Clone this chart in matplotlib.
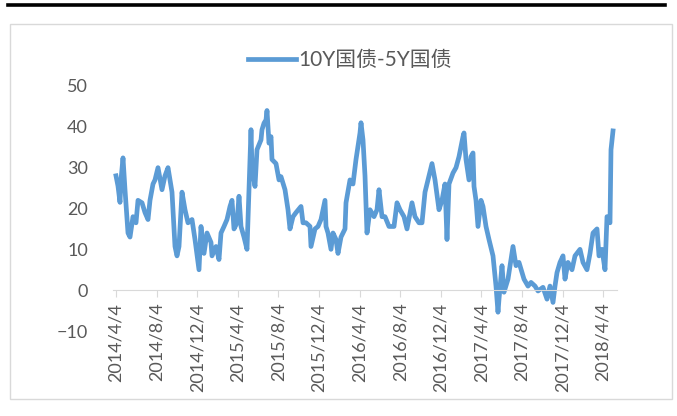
import numpy as np
import pandas as pd
import matplotlib
matplotlib.use('Agg')
import matplotlib.pyplot as plt
from matplotlib.lines import Line2D

plt.rcParams['font.family'] = ['Lato', 'Noto Sans CJK SC', 'DejaVu Sans']

# days since 2014/4/4 and spread (bp)
days = [0, 6, 12, 15, 21, 27, 36, 42, 51, 60, 66, 78, 87, 96, 102, 111, 117, 126,
        138, 147, 156, 168, 177, 183, 189, 198, 207, 216, 228, 237, 249, 255, 264,
        273, 285, 288, 300, 309, 315, 324, 333, 342, 348, 354, 363, 369, 375, 384,
        393, 405, 408, 417, 423, 435, 438, 444, 450, 453, 459, 465, 468, 480, 489,
        495, 507, 516, 522, 531, 540, 555, 561, 570, 582, 585, 597, 606, 615, 627,
        630, 636, 645, 651, 660, 666, 675, 687, 690, 702, 711, 720, 732, 735, 741,
        747, 753, 762, 774, 783, 789, 798, 807, 819, 834, 843, 852, 864, 873, 888,
        897, 909, 918, 927, 939, 948, 957, 969, 978, 987, 993, 999, 1011, 1020,
        1029, 1041, 1044, 1050, 1059, 1065, 1071, 1074, 1080, 1086, 1095, 1101,
        1110, 1119, 1131, 1140, 1146, 1149, 1158, 1164, 1176, 1185, 1191, 1200,
        1209, 1224, 1236, 1245, 1257, 1266, 1281, 1293, 1302, 1311, 1317, 1323,
        1332, 1341, 1347, 1356, 1368, 1377, 1392, 1401, 1413, 1422, 1431, 1443,
        1449, 1458, 1467, 1473, 1482, 1485, 1491]
spread = [28, 25.5, 21.5, 27, 32.4, 24.6, 14, 13, 18, 16.5, 22, 21.4, 19, 17.3, 22,
          26, 27, 30, 24.6, 28, 30, 24, 10.7, 8.4, 10.7, 24, 19.7, 16.5, 17.3, 12.4,
          5, 15.6, 9, 14, 11.7, 8.4, 10.7, 7.5, 14, 15.6, 17.3, 20.5, 22, 15, 16.5,
          23, 15.6, 13, 10, 39.3, 30, 25.4, 34.4, 36.8, 39.3, 40.9, 41.7, 44, 36,
          37.6, 32, 31, 27, 27.8, 24.6, 19.7, 15, 18, 19, 20.5, 16.5, 16.5, 15.6,
          10.7, 15, 15.6, 17.3, 22, 15.6, 14, 10, 14, 12.4, 9, 13, 15, 21.4, 27, 26,
          32, 38.5, 41, 36.8, 28, 14, 19.7, 18, 19.7, 24.6, 18, 18, 15.6, 15.6, 21.4,
          19.7, 18, 15, 21.4, 18, 16.5, 16.5, 24, 28, 31, 27, 19.7, 22, 26, 12.4, 26,
          28.7, 30, 32.7, 37.6, 38.5, 32, 27, 32.7, 33.6, 25.4, 22, 15.6, 22, 20.5,
          15.6, 12.4, 8.4, 1, -5.4, -2.2, 6, -0.5, 2.7, 7.5, 10.7, 6, 6.8, 2.7, 1,
          1.9, 1, -0.2, 0.7, -2.2, 1, -3, 1, 4.3, 6.8, 8.4, 2.7, 6.8, 5, 8.4, 10, 6.8,
          5, 9, 14, 15, 8.4, 10, 5, 18, 16.5, 34.4, 39]
tick_dates = ['2014-04-04', '2014-08-04', '2014-12-04', '2015-04-04', '2015-08-04',
              '2015-12-04', '2016-04-04', '2016-08-04', '2016-12-04', '2017-04-04',
              '2017-08-04', '2017-12-04', '2018-04-04']
series_name = '10Y国债-5Y国债'

start = pd.Timestamp('2014-04-04')
dates = start + pd.to_timedelta(days, unit='D')
ticks = pd.to_datetime(tick_dates)

blue = '#5b9bd5'
grey = '#595959'

fig = plt.figure(figsize=(6.77, 4.16), dpi=100)
fig.add_artist(Line2D([8/677, 665/677], [1 - 4.5/416, 1 - 4.5/416], color='black', lw=2.6))
fig.add_artist(plt.Rectangle((10/677, 1 - 399/416), 662/677, 375/416, fill=False,
                             edgecolor='#d9d9d9', lw=1.0))

ax = fig.add_axes([113/677, 1 - 331/416, 504/677, 245/416])
for s in ['top', 'right', 'left']:
    ax.spines[s].set_visible(False)
ax.spines['bottom'].set_position(('data', 0))
ax.spines['bottom'].set_color('#d9d9d9')

ax.plot(dates, spread, color=blue, lw=3.4, solid_joinstyle='round')

ax.set_ylim(-10, 50)
ax.set_yticks(range(-10, 51, 10))
ax.set_xlim(start - pd.Timedelta(days=9), start + pd.Timedelta(days=1503))
ax.set_xticks(ticks)
ax.set_xticklabels([f'{d.year}/{d.month}/{d.day}' for d in ticks])
ax.tick_params(axis='x', length=5, color='#d9d9d9', pad=4, labelrotation=90,
               labelsize=13, labelcolor=grey)
ax.tick_params(axis='y', length=0, pad=18, labelsize=13, labelcolor=grey)

handle = Line2D([], [], color=blue, lw=3.4)
fig.legend([handle], [series_name], loc='center', bbox_to_anchor=(350/677, 1 - 60/416),
           frameon=False, fontsize=15, handlelength=2.3, labelcolor=grey,
           handletextpad=0.1)

fig.savefig('out.png', dpi=100)
